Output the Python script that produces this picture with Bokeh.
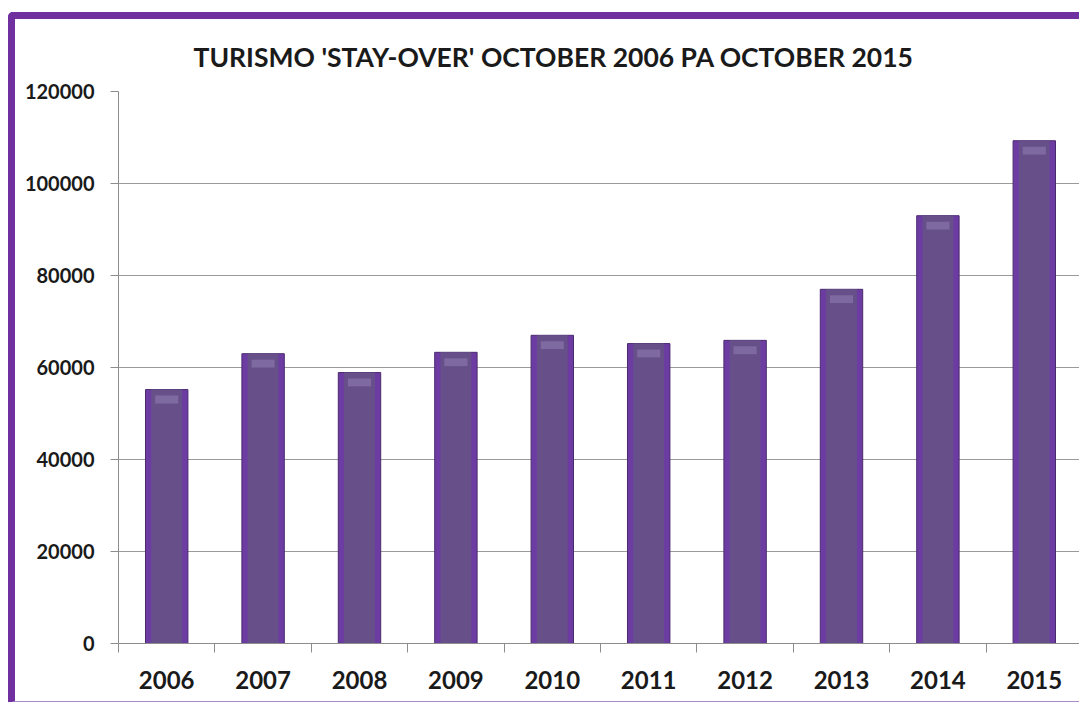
from bokeh.plotting import figure
from bokeh.models import FixedTicker, Range1d, ColumnDataSource
from bokeh.embed import file_html
from bokeh.resources import INLINE

years = ["2006", "2007", "2008", "2009", "2010", "2011", "2012", "2013", "2014", "2015"]
values = [55200, 63000, 58900, 63300, 67000, 65200, 65900, 77000, 93000, 109300]
y_ticks = [0, 20000, 40000, 60000, 80000, 100000, 120000]
title_text = "TURISMO 'STAY-OVER' OCTOBER 2006 PA OCTOBER 2015"

xs = [i + 0.5 for i in range(len(years))]
src = ColumnDataSource(dict(
    x=xs, top=values,
    hl_top=[v - 1300 for v in values], hl_bot=[v - 3000 for v in values],
))

FONT = "Lato"
PURPLE = "#7030a0"

p = figure(width=1071, height=691, output_backend="svg", toolbar_location=None,
           x_range=Range1d(0, len(years)), y_range=Range1d(0, 120000),
           min_border_left=103, min_border_right=4, min_border_top=72, min_border_bottom=67)

p.styles = {
    "border-left": "7px solid " + PURPLE,
    "border-top": "7px solid " + PURPLE,
    "border-bottom": "2px solid #a98bc8",
    "border-top-left-radius": "5px",
    "margin-left": "8px",
    "margin-top": "12px",
}

p.title.text = title_text
p.title.text_font = FONT
p.title.text_font_size = "26.5px"
p.title.text_font_style = "bold"
p.title.text_color = "#1a1a1a"
p.title.align = "left"
p.title.vertical_align = "bottom"
p.title.offset = 75
p.title.standoff = 38

p.outline_line_color = None
p.background_fill_color = "white"
p.border_fill_color = "white"

# bars
p.vbar(x="x", top="top", bottom=0, width=0.44, source=src,
       fill_color="#6d3ca3", line_color="#4a2a6e", line_width=1)
p.vbar(x="x", top="top", bottom=0, width=0.32, source=src,
       fill_color="#675089", line_color=None)
p.vbar(x="x", top="hl_top", bottom="hl_bot", width=0.24, source=src,
       fill_color="#a291c2", fill_alpha=0.4, line_color=None)

# x axis
xa = p.xaxis[0]
xa.ticker = FixedTicker(ticks=xs, minor_ticks=list(range(len(years) + 1)))
xa.major_label_overrides = {x: y for x, y in zip(xs, years)}
xa.major_tick_out = 0
xa.major_tick_in = 0
xa.minor_tick_out = 9
xa.minor_tick_in = 0
xa.minor_tick_line_color = "#8c8c8c"
xa.axis_line_color = "#8c8c8c"
xa.major_label_text_font = FONT
xa.major_label_text_font_style = "bold"
xa.major_label_text_font_size = "24px"
xa.major_label_text_color = "#1a1a1a"
xa.major_label_standoff = 18

# y axis
ya = p.yaxis[0]
ya.ticker = FixedTicker(ticks=y_ticks)
ya.minor_tick_line_color = None
ya.major_tick_out = 8
ya.major_tick_in = 0
ya.major_tick_line_color = "#8c8c8c"
ya.axis_line_color = "#8c8c8c"
ya.major_label_text_font = FONT
ya.major_label_text_font_style = "bold"
ya.major_label_text_font_size = "20px"
ya.major_label_text_color = "#1a1a1a"
ya.major_label_standoff = 16
ya.formatter.use_scientific = False

p.xgrid.grid_line_color = None
p.ygrid.ticker = FixedTicker(ticks=y_ticks)
p.ygrid.grid_line_color = "#9a9a9a"
p.ygrid.grid_line_width = 1

open("out.html", "w").write(file_html(p, INLINE))
